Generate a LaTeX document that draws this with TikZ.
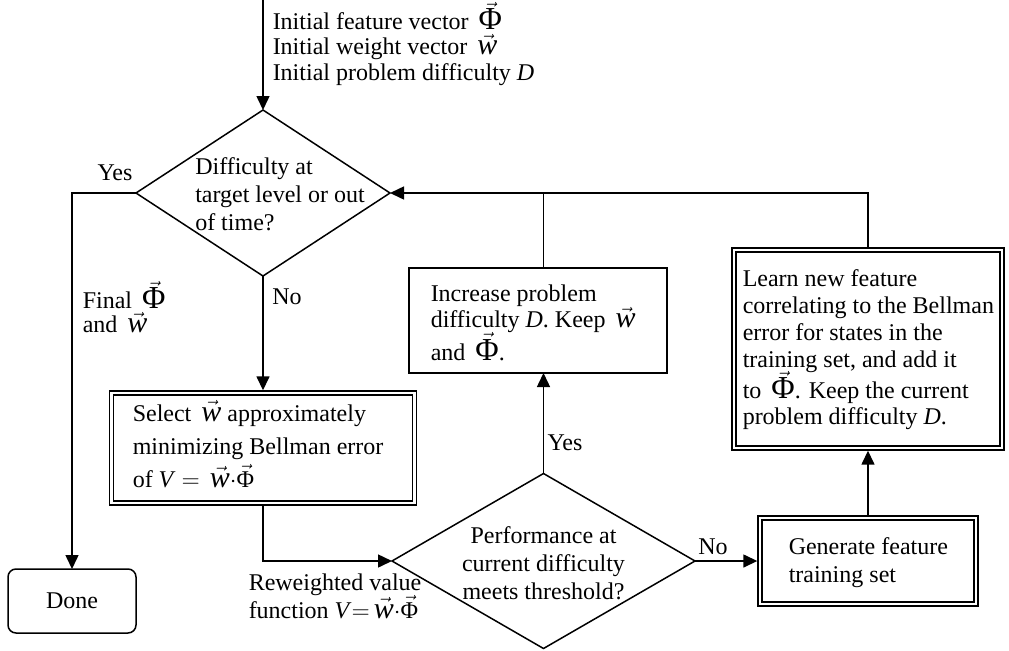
\documentclass[tikz,border=0pt]{standalone}
\usepackage{fontspec}
\setmainfont{Liberation Serif}
\usetikzlibrary{shapes.geometric,arrows.meta}
\newcommand{\vw}{\ensuremath{\,\vec{\mbox{\fontsize{15pt}{15pt}\selectfont\itshape w}}}}
\newcommand{\vP}{\ensuremath{\,\vec{\mbox{\fontsize{16pt}{16pt}\selectfont Φ}}}}
\newcommand{\vPs}{\ensuremath{\vec{\mbox{Φ}}}}
\begin{document}
\begin{tikzpicture}[x=0.5pt,y=-0.5pt,
  font=\fontsize{12pt}{14pt}\selectfont,
  line width=0.75pt,
  arr/.style={-{Triangle[length=7pt,width=6.5pt]}},
  sbox/.style={draw, inner sep=0pt, outer sep=0pt},
  dbox/.style={draw, double, line width=0.7pt, double distance=1.3pt, inner sep=0pt, outer sep=1.35pt},
  dec/.style={draw, diamond, inner sep=0pt, outer sep=0pt},
  txt/.style={inner sep=0pt, align=left}]
\useasboundingbox (0,0) rectangle (1009,650);
% start
\coordinate (start) at (263,0);
\node[txt, anchor=west] (init) at (272,44) {Initial feature vector \vP\\[-1.5pt]Initial weight vector \vw\\[-1pt]Initial problem difficulty \textit{D}};
% decision 1
\node[dec, minimum width=127pt, minimum height=83pt] (d1) at (263,193) {};
\node[txt] (d1t) at (280,194) {Difficulty at\\target level or out\\of time?};
% done
\node[sbox, rounded corners=4pt, minimum width=64pt, minimum height=32pt] (done) at (72,601) {Done};
% select
\node[dbox, minimum width=151.5pt, minimum height=55pt] (sel) at (263,448) {};
\node[txt, anchor=west] (selt) at (132,444) {Select \vw{} approximately\\[2.5pt]minimizing Bellman error\\[2.5pt]of \textit{\large V} $=$ \vw$\cdot$\vPs};
% decision 2
\node[dec, minimum width=151.5pt, minimum height=87.5pt] (d2) at (543.5,561) {};
\node[txt, align=center] (d2t) at (543.5,563) {Performance at\\current difficulty\\meets threshold?};
% increase
\node[sbox, minimum width=129pt, minimum height=52.5pt] (inc) at (538,320.5) {};
\node[txt, anchor=west] (inct) at (430,323) {Increase problem\\[-1pt]difficulty \textit{D}. Keep \vw\\[-1pt]and \vP.};
% learn
\node[dbox, minimum width=134pt, minimum height=99pt] (lrn) at (868,349) {};
\node[txt, anchor=west] (lrnt) at (742,350) {Learn new feature\\[-0.5pt]correlating to the Bellman\\[-0.5pt]error for states in the\\[-0.5pt]training set, and add it\\[-2pt]to \vP. Keep the current\\[-1pt]problem difficulty \textit{D}.};
% generate
\node[dbox, minimum width=108pt, minimum height=43pt] (gen) at (868,561) {};
\node[txt, anchor=west] (gent) at (788,563) {Generate feature\\training set};
% labels
\node[txt] (yes1) at (115,173) {Yes};
\node[txt, anchor=west] (fin) at (82,307) {Final \vP\\[-2pt]and \vw};
\node[txt] (no1) at (287,297) {No};
\node[txt] (yes2) at (565,443) {Yes};
\node[txt] (no2) at (713,547) {No};
\node[txt, anchor=west] (rew) at (248,596) {Reweighted value\\function \textit{\large V}$=$\vw$\cdot$\vPs};
% connectors
\draw[arr] (start) -- (d1.north);
\draw[arr] (d1.west) -| (done.north);
\draw[arr] (d1.south) -- (sel.north);
\draw[arr] (sel.south) |- (d2.west);
\draw[arr] (d2.north) -- (d2.north |- inc.south);
\draw[arr] (d2.east) -- (gen.west);
\draw[arr] (gen.north) -- (lrn.south);
\draw[arr] (lrn.north) |- (d1.east);
\draw (d2.north |- inc.north) -- (d2.north |- d1.east);
\end{tikzpicture}
\end{document}
